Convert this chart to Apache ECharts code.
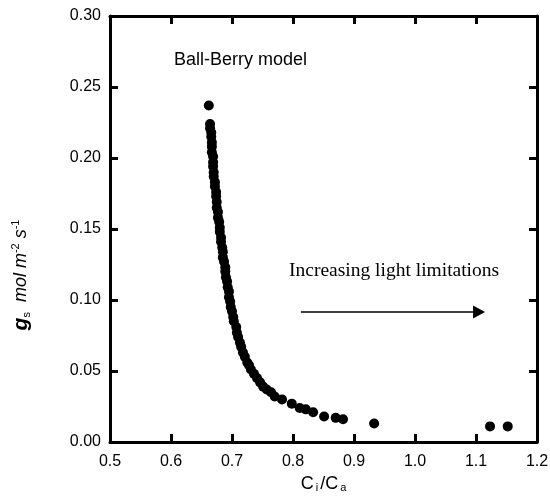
<!DOCTYPE html>
<html>
<head>
<meta charset="utf-8">
<script src="https://cdn.jsdelivr.net/npm/echarts@6/dist/echarts.min.js"></script>
<style>html,body{margin:0;padding:0;background:#fff}#c{width:550px;height:497px}</style>
</head>
<body>
<div id="c"></div>
<script>
const ciCa = [0.662,0.664,0.664,0.666,0.666,0.667,0.667,0.667,0.669,0.669,0.669,
  0.670,0.670,0.672,0.672,0.674,0.674,0.675,0.675,0.677,0.677,0.679,0.680,0.680,0.682,0.682,
  0.684,0.685,0.685,0.687,0.689,0.689,0.690,0.692,0.693,0.695,0.695,0.697,0.698,0.700,0.702,
  0.703,0.707,0.708,0.710,0.713,0.715,0.718,0.721,0.725,0.728,0.731,0.736,0.741,0.746,0.751,
  0.757,0.764,0.770,0.782,0.798,0.811,0.821,0.833,0.851,0.870,0.882,0.933,1.123,1.152];
const gs = [0.237,0.224,0.221,0.218,0.215,0.211,0.208,0.204,0.201,0.197,0.194,
  0.190,0.187,0.183,0.180,0.176,0.173,0.169,0.165,0.162,0.158,0.155,0.151,0.148,0.144,0.141,
  0.137,0.134,0.130,0.127,0.123,0.120,0.116,0.113,0.109,0.106,0.102,0.099,0.095,0.092,0.088,
  0.085,0.081,0.077,0.074,0.070,0.067,0.063,0.060,0.056,0.054,0.051,0.048,0.045,0.042,0.039,
  0.037,0.035,0.032,0.030,0.027,0.024,0.023,0.021,0.018,0.017,0.016,0.013,0.011,0.011];
const xTicks = [0.5,0.6,0.7,0.8,0.9,1.0,1.1,1.2];
const yTicks = [0.00,0.05,0.10,0.15,0.20,0.25,0.30];
const arrowStart = [0.813, 0.0915];
const arrowEnd = [1.105, 0.0915];

const SANS = 'Liberation Sans, Arial, sans-serif';
const SERIF = 'Liberation Serif, Times New Roman, serif';
const chart = echarts.init(document.getElementById('c'));
const lineStyle = {color:'#000', width:3};
const labelFont = {color:'#000', fontSize:16, fontFamily:SANS};
const baseAxis = {
  axisLine:{show:true, onZero:false, lineStyle},
  axisTick:{show:true, inside:true, length:8, lineStyle},
  splitLine:{show:false}
};
chart.setOption({
  animation:false,
  backgroundColor:'#fff',
  grid:{left:110, right:13, top:16, bottom:55, containLabel:false, outerBoundsMode:'none'},
  xAxis:[
    Object.assign({}, baseAxis, {type:'value', min:0.5, max:1.2, interval:0.1, position:'bottom',
      axisLabel:Object.assign({}, labelFont, {margin:12, formatter:v=>{const t=xTicks.find(k=>Math.abs(k-v)<1e-9);return t===undefined?'':t.toFixed(1);}}),
      name:'{t|C}{s|i}{t|/C}{s|a}', nameLocation:'middle', nameGap:31,
      nameTextStyle:{rich:{
        t:{fontSize:18, fontFamily:SANS, color:'#000', lineHeight:20, padding:[0,1,0,1]},
        s:{fontSize:11, fontFamily:SANS, color:'#000', lineHeight:11, verticalAlign:'bottom', padding:[0,1,0,1]}
      }}}),
    Object.assign({}, baseAxis, {type:'value', min:0.5, max:1.2, interval:0.1, position:'top', axisLabel:{show:false}})
  ],
  yAxis:[
    Object.assign({}, baseAxis, {type:'value', min:0, max:0.3, interval:0.05, position:'left',
      axisLabel:Object.assign({}, labelFont, {margin:9, formatter:v=>{const t=yTicks.find(k=>Math.abs(k-v)<1e-9);return t===undefined?'':t.toFixed(2);}})}),
    Object.assign({}, baseAxis, {type:'value', min:0, max:0.3, interval:0.05, position:'right', axisLabel:{show:false}})
  ],
  graphic:[
    {type:'text', left:174, top:51, style:{text:'Ball-Berry model', fontSize:18, fontFamily:SANS, fill:'#000'}},
    {type:'text', left:289, top:261, style:{text:'Increasing light limitations', fontSize:19.5, fontFamily:SERIF, fill:'#000'}},
    {type:'text', x:21, y:275, rotation:Math.PI/2, style:{
      text:'{g|g}{sub|s}{i|  mol m}{sup|-2}{i| s}{sup|-1}', align:'center', verticalAlign:'middle',
      rich:{
        g:{fontSize:21, fontWeight:'bold', fontStyle:'italic', fontFamily:SANS, fill:'#000', lineHeight:22},
        i:{fontSize:18, fontStyle:'italic', fontFamily:SANS, fill:'#000', lineHeight:22},
        sub:{fontSize:11, fontFamily:SANS, fill:'#000', lineHeight:11, verticalAlign:'bottom'},
        sup:{fontSize:11, fontFamily:SANS, fill:'#000', lineHeight:11, verticalAlign:'top'}
      }}}
  ],
  series:[{
    type:'scatter', xAxisIndex:0, yAxisIndex:0,
    data: ciCa.map((x,i)=>[x, gs[i]]),
    symbol:'circle', symbolSize:10,
    itemStyle:{color:'#000', opacity:1},
    markLine:{
      silent:true, symbol:['none','triangle'], symbolSize:[13,12],
      label:{show:false},
      lineStyle:{color:'#000', width:1.5, type:'solid', opacity:1},
      data:[[{coord:arrowStart},{coord:arrowEnd}]]
    }
  }]
});
</script>
</body>
</html>
